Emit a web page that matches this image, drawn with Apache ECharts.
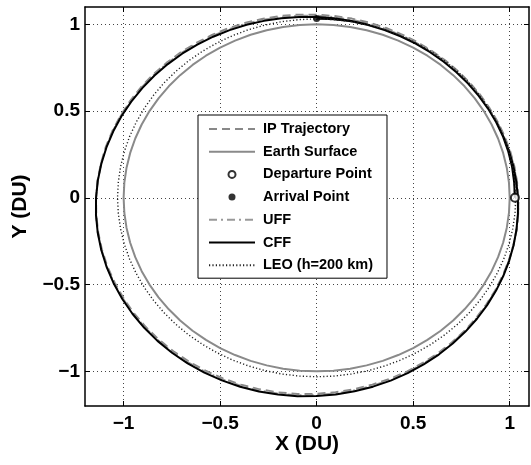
<!DOCTYPE html>
<html>
<head>
<meta charset="utf-8">
<script src="https://cdn.jsdelivr.net/npm/echarts@6/dist/echarts.min.js"></script>
<style>
  html, body { margin: 0; padding: 0; background: #fff; }
  #chart { width: 531px; height: 465px; }
</style>
</head>
<body>
<div id="chart"></div>
<script>
// polar samples (deg), radius in DU
const ANGLES = [0, 5, 10, 15, 20, 25, 30, 35, 40, 45, 50, 55, 60, 65, 70, 75, 80, 85, 90,
  95, 100, 105, 110, 115, 120, 125, 130, 135, 140, 145, 150, 155, 160, 165, 170, 175, 180,
  185, 190, 195, 200, 205, 210, 215, 220, 225, 230, 235, 240, 245, 250, 255, 260, 265, 270,
  275, 280, 285, 290, 295, 300, 305, 310, 315, 320, 325, 330, 335, 340, 345, 350, 355, 360,
  365, 370, 375, 380, 385, 390, 395, 400, 405, 410, 415, 420, 425, 430, 435, 440, 445, 450];

const IP_R = [1.027, 1.031, 1.034, 1.035, 1.035, 1.035, 1.034, 1.034, 1.034, 1.034, 1.035, 1.036,
  1.038, 1.040, 1.043, 1.046, 1.049, 1.052, 1.056, 1.060, 1.065, 1.069, 1.074, 1.079, 1.084, 1.089,
  1.095, 1.100, 1.106, 1.111, 1.116, 1.121, 1.126, 1.131, 1.135, 1.139, 1.143, 1.146, 1.149, 1.152,
  1.154, 1.155, 1.156, 1.157, 1.157, 1.156, 1.155, 1.153, 1.151, 1.149, 1.146, 1.143, 1.139, 1.135,
  1.130, 1.125, 1.120, 1.115, 1.110, 1.105, 1.099, 1.094, 1.089, 1.084, 1.078, 1.073, 1.068, 1.063,
  1.059, 1.055, 1.052, 1.048, 1.045, 1.042, 1.040, 1.038, 1.036, 1.035, 1.034, 1.034, 1.034, 1.034,
  1.035, 1.035, 1.036, 1.036, 1.036, 1.036, 1.035, 1.034, 1.033];

const UFF_R = [1.027, 1.029, 1.031, 1.032, 1.032, 1.031, 1.030, 1.030, 1.029, 1.029, 1.030, 1.031,
  1.032, 1.035, 1.037, 1.040, 1.042, 1.046, 1.050, 1.054, 1.058, 1.063, 1.068, 1.073, 1.078, 1.084,
  1.090, 1.096, 1.102, 1.108, 1.113, 1.119, 1.124, 1.129, 1.134, 1.139, 1.143, 1.147, 1.151, 1.154,
  1.157, 1.159, 1.160, 1.161, 1.162, 1.162, 1.161, 1.159, 1.157, 1.155, 1.153, 1.150, 1.146, 1.142,
  1.137, 1.132, 1.127, 1.122, 1.116, 1.110, 1.104, 1.099, 1.093, 1.087, 1.081, 1.076, 1.070, 1.065,
  1.060, 1.056, 1.052, 1.048, 1.044, 1.041, 1.038, 1.036, 1.033, 1.032, 1.030, 1.030, 1.029, 1.029,
  1.030, 1.031, 1.031, 1.032, 1.033, 1.034, 1.034, 1.034, 1.033];

const CFF_R = [1.027, 1.027, 1.028, 1.028, 1.028, 1.027, 1.026, 1.0248, 1.0241, 1.0239, 1.0241,
  1.0248, 1.0260, 1.0276, 1.0297, 1.0323, 1.0353, 1.0387, 1.0425, 1.0467, 1.0512, 1.0561, 1.0613,
  1.0667, 1.0724, 1.0782, 1.0843, 1.0904, 1.0966, 1.1028, 1.1090, 1.1152, 1.1212, 1.1270, 1.1326,
  1.1380, 1.1429, 1.1475, 1.1517, 1.1554, 1.1586, 1.1613, 1.1634, 1.1650, 1.1659, 1.1662, 1.1659,
  1.1650, 1.1634, 1.1613, 1.1586, 1.1554, 1.1517, 1.1475, 1.1429, 1.1380, 1.1326, 1.1270, 1.1212,
  1.1152, 1.1090, 1.1028, 1.0966, 1.0904, 1.0843, 1.0782, 1.0724, 1.0667, 1.0613, 1.0561, 1.0512,
  1.0467, 1.0425, 1.0387, 1.0353, 1.0323, 1.0297, 1.0276, 1.0260, 1.0248, 1.0241, 1.0239, 1.0241,
  1.0248, 1.0260, 1.0276, 1.0297, 1.0316, 1.0328, 1.0332, 1.033];

const EARTH_R = 1;
const LEO_R = 1.0314;          // 1 + 200/6378
const DEPARTURE = [1.027, 0];
const ARRIVAL = [0, 1.033];

const TICKS = [-1, -0.5, 0, 0.5, 1];
const X_RANGE = [-1.2, 1.1];
const Y_RANGE = [-1.2, 1.1];

const toXY = (angles, radii) => angles.map((a, i) => {
  const t = a * Math.PI / 180;
  const r = Array.isArray(radii) ? radii[i] : radii;
  return [r * Math.cos(t), r * Math.sin(t)];
});
const circleAngles = ANGLES.filter(a => a <= 360);

const FONT = '"Liberation Sans", Arial, Helvetica, sans-serif';
const fmt = v => (v < 0 ? '\u2212' + String(-v) : String(v));

const chart = echarts.init(document.getElementById('chart'));

const baseAxis = (range, pos) => ({
  type: 'value',
  position: pos,
  min: range[0],
  max: range[1],
  axisLine: { show: true, onZero: false, lineStyle: { color: '#000', width: 1.5 } },
  axisTick: { show: true, inside: true, length: 5, customValues: TICKS, lineStyle: { color: '#000', width: 1 } },
  axisLabel: { show: false, customValues: TICKS },
  splitLine: { show: false }
});

const labelStyle = { fontFamily: FONT, fontWeight: 'bold', fontSize: 19, color: '#000' };
const nameStyle = { fontFamily: FONT, fontWeight: 'bold', fontSize: 21, color: '#000' };
const gridLine = { show: true, lineStyle: { color: '#444', width: 1, type: [1, 3] } };

const xMain = Object.assign(baseAxis(X_RANGE, 'bottom'), {
  name: 'X (DU)',
  nameLocation: 'middle',
  nameGap: 28,
  nameMoveOverlap: false,
  nameTextStyle: nameStyle,
  axisLabel: Object.assign({ show: true, customValues: TICKS, margin: 8, formatter: fmt }, labelStyle),
  splitLine: gridLine
});

const yMain = Object.assign(baseAxis(Y_RANGE, 'left'), {
  name: 'Y (DU)',
  nameLocation: 'middle',
  nameGap: 54,
  nameRotate: 90,
  nameMoveOverlap: false,
  nameTextStyle: nameStyle,
  axisLabel: Object.assign({ show: true, customValues: TICKS, margin: 5, formatter: fmt }, labelStyle),
  splitLine: gridLine
});

const lineSeries = (name, data, color, width, type, z) => ({
  name, type: 'line', data, symbol: 'none', z,
  lineStyle: { color, width, type },
  itemStyle: { color }
});

// legend entries for lines: hide the default marker dot
const lineEntry = name => ({ name, itemStyle: { opacity: 0 } });

chart.setOption({
  animation: false,
  backgroundColor: '#fff',
  grid: { left: 85, right: 2, top: 7, bottom: 59 },
  xAxis: [xMain, baseAxis(X_RANGE, 'top')],
  yAxis: [yMain, baseAxis(Y_RANGE, 'right')],
  legend: {
    orient: 'vertical',
    left: 198,
    top: 115,
    padding: [6, 14, 5, 10],
    backgroundColor: '#fff',
    borderColor: '#000',
    borderWidth: 1,
    itemWidth: 46,
    itemHeight: 7,
    itemGap: 6.7,
    textStyle: { fontFamily: FONT, fontWeight: 'bold', fontSize: 14.5, color: '#000',
      lineHeight: 16, padding: [0, 0, 0, 3] },
    data: [
      lineEntry('IP Trajectory'),
      lineEntry('Earth Surface'),
      'Departure Point',
      'Arrival Point',
      lineEntry('UFF'),
      lineEntry('CFF'),
      lineEntry('LEO (h=200 km)')
    ]
  },
  series: [
    lineSeries('IP Trajectory', toXY(ANGLES, IP_R), '#888', 2, [8, 5], 3),
    lineSeries('Earth Surface', toXY(circleAngles, EARTH_R), '#8a8a8a', 2, 'solid', 2),
    {
      name: 'Departure Point', type: 'scatter', data: [DEPARTURE], symbol: 'circle', symbolSize: 8, z: 10,
      itemStyle: { color: '#fff', borderColor: '#000', borderWidth: 2 }
    },
    {
      name: 'Arrival Point', type: 'scatter', data: [ARRIVAL], symbol: 'circle', symbolSize: 7, z: 10,
      itemStyle: { color: '#000' }
    },
    lineSeries('UFF', toXY(ANGLES, UFF_R), '#999', 2, [8, 4, 2, 4], 4),
    lineSeries('CFF', toXY(ANGLES, CFF_R), '#000', 2, 'solid', 5),
    lineSeries('LEO (h=200 km)', toXY(circleAngles, LEO_R), '#222', 1.4, [1.2, 2.2], 6)
  ]
});
</script>
</body>
</html>
